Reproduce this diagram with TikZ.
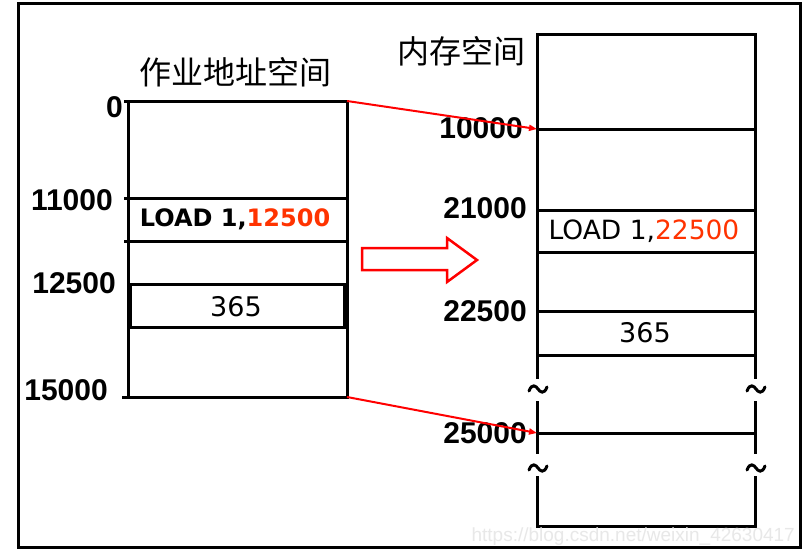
\documentclass[tikz,border=0pt]{standalone}
\usepackage{fontspec}
\setmainfont{Liberation Sans}
\newfontfamily\cjk{Noto Sans CJK SC}
\newfontfamily\verd{DejaVu Sans}
\usetikzlibrary{arrows.meta}
\definecolor{hot}{RGB}{255,51,0}
\begin{document}
\begin{tikzpicture}[x=1pt,y=-1pt,
  wall/.style={line width=3pt,line cap=rect},
  numlbl/.style={anchor=east,inner sep=0pt,font=\fontsize{30}{34}\selectfont\bfseries},
  titlelbl/.style={inner sep=0pt,font=\cjk\fontsize{32}{36}\selectfont},
  redlink/.style={red,line width=2pt,-{Triangle[length=8pt,width=6pt]}},
  wavy/.style={line width=3pt,line cap=round}]
\useasboundingbox (0,0) rectangle (806,555);
\fill[white] (0,0) rectangle (806,555);
% outer frame
\draw[line width=3pt] (18,3) rectangle (800,547);

% left box (job address space)
\coordinate (l0w) at (128,101);
\coordinate (l0e) at (347,101);
\coordinate (lbw) at (128,397);
\coordinate (lbe) at (347,397);
\draw[wall] (125,101) -- (l0e) -- (lbe) -- (123,397);
\draw[wall] (l0w) -- (lbw);
\draw[wall] (125,198) -- (347,198);
\draw[wall] (125,241) -- (347,241);
\draw[wall] (128,284) -- (347,284);
\draw[wall] (128,327) -- (347,327);
\draw[line width=5pt] (129.5,284) -- (129.5,327);
\draw[line width=5pt] (345.5,284) -- (345.5,327);

\node[titlelbl] (ttl) at (235,72) {作业地址空间};
\node[numlbl] (n0) at (123,107) {0};
\node[numlbl] (n11) at (113,200) {11000};
\node[numlbl] (n125) at (116,283) {12500};
\node[numlbl] (n15) at (108,390) {15000};
\node[inner sep=0pt,font=\verd\fontsize{24}{27}\selectfont\bfseries] (ld1) at (235,219) {LOAD 1,\textcolor{hot}{12500}};
\node[inner sep=0pt,font=\verd\fontsize{27}{30}\selectfont] (v1) at (236,307) {365};

% right box (memory space)
\coordinate (r0w) at (537,129);
\coordinate (rbw) at (537,433);
\draw[wall] (537,377) -- (537,34) -- (755,34) -- (755,377);
\draw[wall] (537,402) -- (537,452);
\draw[wall] (755,402) -- (755,452);
\draw[wall] (537,477) -- (537,526) -- (755,526) -- (755,477);
\foreach \yy in {129,210,252,311,355,433}
  \draw[wall] (537,\yy) -- (755,\yy);

\node[titlelbl] (ttr) at (461,51) {内存空间};
\node[numlbl] (m10) at (523,128) {10000};
\node[numlbl] (m21) at (527,208) {21000};
\node[numlbl] (m225) at (527,311) {22500};
\node[numlbl] (m25) at (527,433) {25000};
\node[inner sep=0pt,font=\verd\fontsize{26.5}{30}\selectfont] (ld2) at (644,231) {LOAD 1,\textcolor{hot}{22500}};
\node[inner sep=0pt,font=\verd\fontsize{27}{30}\selectfont] (v2) at (645,333) {365};

% break marks
\foreach \cx/\cy in {538/389, 756/389, 538/468, 756/468}
  \draw[wavy] (\cx-9,\cy+2) .. controls (\cx-6,\cy-6) and (\cx-2,\cy-3) .. (\cx,\cy)
              .. controls (\cx+2,\cy+3) and (\cx+6,\cy+6) .. (\cx+9,\cy-2);

% mapping connectors
\draw[redlink] (l0e) -- (r0w);
\draw[redlink] (lbe) -- (rbw);

% hollow arrow
\draw[red,line width=2.5pt,line join=miter] (362,248) -- (447,248) -- (447,238) -- (477,260) -- (447,282) -- (447,270) -- (362,270) -- cycle;

% watermark
\node[anchor=east,inner sep=0pt,text=black!9,font=\fontsize{19}{22}\selectfont] (wm) at (795,537) {https://blog.csdn.net/weixin\_42630417};
\end{tikzpicture}
\end{document}
